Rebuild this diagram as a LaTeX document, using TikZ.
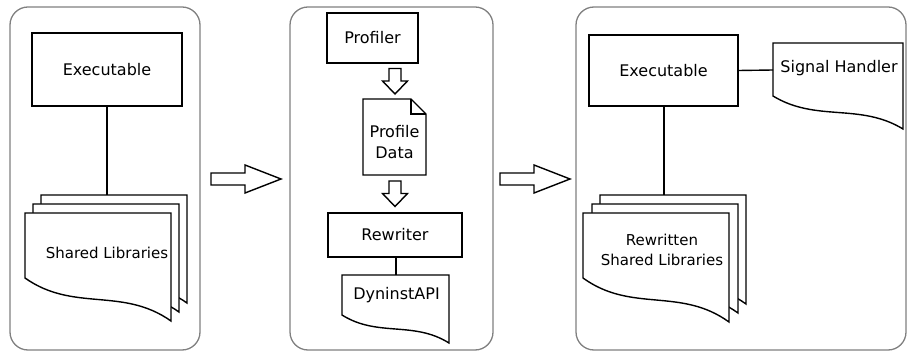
\documentclass[tikz,border=0pt]{standalone}
\usepackage{fontspec}
\setmainfont{DejaVu Sans}

\tikzset{
  panel/.style={draw=black!50, line width=1.3pt, rounded corners=18pt},
  box/.style={draw, line width=1.4pt, fill=white},
  label/.style={inner sep=0pt, font=\fontsize{16}{21}\selectfont, align=center},
  small label/.style={label, font=\fontsize{15}{20}\selectfont}
}

% page with wavy bottom: left, top, width, height, drop
\newcommand{\docpage}[5]{%
  \draw[box] (#1,#2) -- ({#1+#3},#2) -- ({#1+#3},{#2+#4+#5})
    .. controls ({#1+2*#3/3},{#2+#4+0.2*#5}) and ({#1+#3/3},{#2+#4+0.8*#5}) .. (#1,{#2+#4}) -- cycle;
}

\begin{document}
\begin{tikzpicture}[x=1pt, y=-1pt]
		\useasboundingbox (0,0) rectangle (907,352);

		% the three stages
		\draw[panel] (10,7) rectangle (200,350);
		\draw[panel] (290,7) rectangle (493,350);
		\draw[panel] (576,7) rectangle (906,350);

		% stage one
		\node[box, minimum width=150, minimum height=73] (exeA) at (107,69.5) {};
		\node[label] (exeAtext) at (exeA) {Executable};
		\docpage{41}{195}{146}{65}{43}
		\docpage{33}{204}{146}{65}{43}
		\docpage{25}{213}{146}{65}{43}
		\coordinate (libAtop) at (107,195);
		\node[small label] (libA) at (107,253) {Shared Libraries};
		\draw[line width=1.4pt] (exeA.south) -- (libAtop);

		% stage two
		\node[box, minimum width=91, minimum height=50] (prof) at (372.5,38) {};
		\node[label] (proftext) at (prof) {Profiler};
		\draw[box] (363,99) -- (411,99) -- (426,114) -- (426,175) -- (363,175) -- cycle;
		\draw[line width=1.4pt] (411,99) -- (411,114) -- (426,114);
		\node[label] (data) at (394.5,142) {Profile\\Data};
		\foreach \y in {68.5,181}
			\draw[box] (389,\y) -- ++(12,0) -- ++(0,12.5) -- ++(6.5,0) -- ++(-12.5,13) -- ++(-12.5,-13) -- ++(6.5,0) -- cycle;
		\node[box, minimum width=134, minimum height=44] (rew) at (395,235) {};
		\node[label] (rewtext) at (rew) {Rewriter};
		\docpage{342}{275}{107}{40}{28}
		\coordinate (dyntop) at (396,275);
		\node[label] (dyn) at (396.5,295) {DyninstAPI};
		\draw[line width=1.4pt] (rew.south -| dyntop) -- (dyntop);

		% stage three
		\node[box, minimum width=149, minimum height=71] (exeC) at (663.5,70.5) {};
		\node[label] (exeCtext) at (exeC) {Executable};
		\docpage{773}{43}{130}{53}{33}
		\coordinate (sigleft) at (773,70);
		\node[label] (sig) at (839,68) {Signal Handler};
		\draw[line width=1.4pt] (exeC.east) -- (sigleft);
		\docpage{600}{195}{146}{65}{44}
		\docpage{592}{204}{146}{65}{44}
		\docpage{583}{213}{146}{65}{44}
		\coordinate (libCtop) at (664,195);
		\node[small label] (libC) at (662,250) {Rewritten\\Shared Libraries};
		\draw[line width=1.4pt] (exeC.south -| libCtop) -- (libCtop);

		% between the stages
		\foreach \x in {211,500}
			\draw[box] (\x,173) -- ++(34,0) -- ++(0,-8) -- ++(36,14) -- ++(-36,14) -- ++(0,-8) -- ++(-34,0) -- cycle;
	\end{tikzpicture}
\end{document}
